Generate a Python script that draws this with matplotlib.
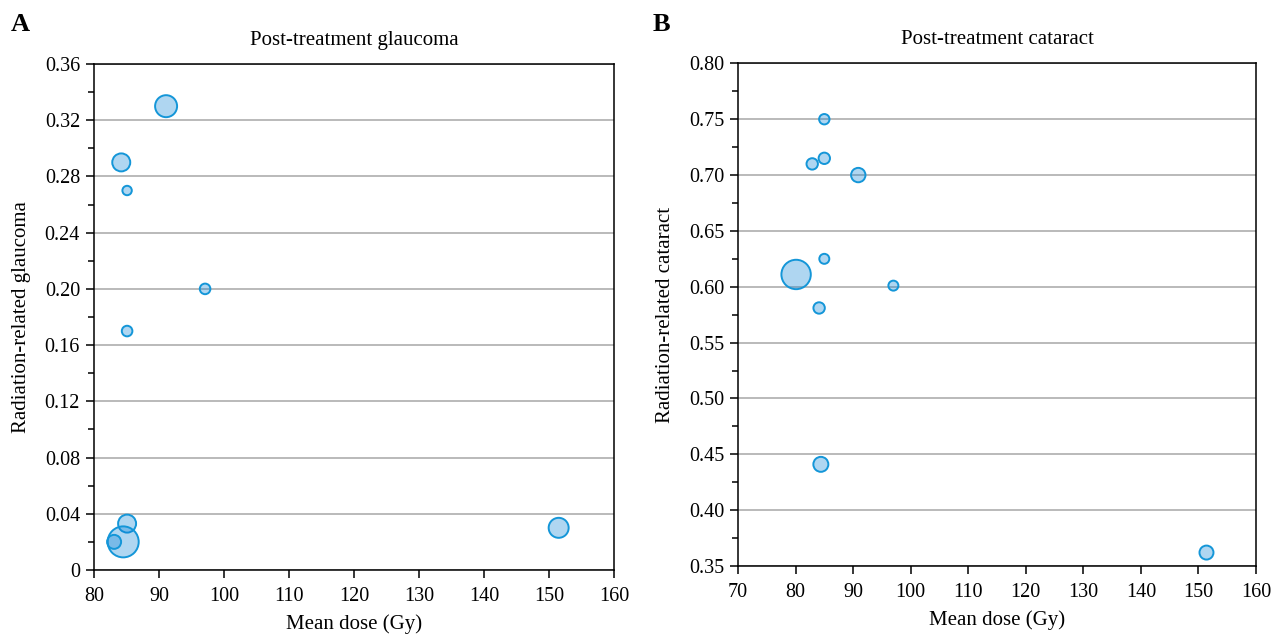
import matplotlib
matplotlib.use("Agg")
import matplotlib.pyplot as plt
from matplotlib.ticker import MultipleLocator

plt.rcParams["font.family"] = ["Liberation Serif", "DejaVu Serif"]

# Panel A: post-treatment glaucoma
glaucoma_dose = [91.1, 84.2, 85.1, 97.1, 85.1, 85.1, 84.5, 83.1, 151.5]
glaucoma_rate = [0.33, 0.29, 0.27, 0.20, 0.17, 0.033, 0.020, 0.020, 0.030]
glaucoma_size = [11, 9, 4.7, 5.3, 5.3, 9, 15.5, 7, 10]  # bubble radius (px)

# Panel B: post-treatment cataract
cataract_dose = [85.0, 82.9, 85.0, 90.9, 85.0, 80.1, 97.0, 84.1, 84.4, 151.4]
cataract_rate = [0.75, 0.71, 0.715, 0.70, 0.625, 0.611, 0.601, 0.581, 0.441, 0.362]
cataract_size = [5.2, 5.7, 5.7, 7.2, 5, 14.7, 5, 5.7, 7.5, 7]

FACE = (0.03, 0.50, 0.84, 0.32)
EDGE = "#1496d8"


def area(radii):
    # px radius -> marker area in pt^2 at 100 dpi
    return [(2 * r * 0.72) ** 2 for r in radii]


def style_axis(ax, xlim, ylim, ymaj, ymin, yfmt):
    ax.set_xlim(*xlim)
    ax.set_ylim(*ylim)
    ax.xaxis.set_major_locator(MultipleLocator(10))
    ax.yaxis.set_major_locator(MultipleLocator(ymaj))
    ax.yaxis.set_minor_locator(MultipleLocator(ymin))
    ax.yaxis.set_major_formatter(yfmt)
    ax.grid(axis="y", which="major", color="#b4b4b4", lw=1.3)
    ax.set_axisbelow(True)
    ax.tick_params(which="major", direction="out", length=6, width=1.1,
                   labelsize=14.5, pad=4)
    ax.tick_params(axis="x", which="major", pad=6)
    ax.tick_params(which="minor", direction="out", length=4, width=1.1)
    for s in ax.spines.values():
        s.set_linewidth(1.1)
    ax.set_xlabel("Mean dose (Gy)", fontsize=15, labelpad=6)


fig = plt.figure(figsize=(12.87, 6.37), dpi=100)
ax1 = fig.add_axes([0.0730, 0.1052, 0.4040, 0.7943])
ax2 = fig.add_axes([0.5734, 0.1115, 0.4025, 0.7890])

ax1.scatter(glaucoma_dose, glaucoma_rate, s=area(glaucoma_size),
            facecolors=[FACE], edgecolors=EDGE, linewidths=1.4, zorder=3)
style_axis(ax1, (80, 160), (0, 0.36), 0.04, 0.02,
           lambda v, p: "0" if abs(v) < 1e-9 else f"{v:.2f}")
ax1.set_ylabel("Radiation-related glaucoma", fontsize=15, labelpad=10)
ax1.set_title("Post-treatment glaucoma", fontsize=15, pad=14)

ax2.scatter(cataract_dose, cataract_rate, s=area(cataract_size),
            facecolors=[FACE], edgecolors=EDGE, linewidths=1.4, zorder=3)
style_axis(ax2, (70, 160), (0.35, 0.80), 0.05, 0.025,
           lambda v, p: f"{v:.2f}")
ax2.set_ylabel("Radiation-related cataract", fontsize=15, labelpad=10)
ax2.set_title("Post-treatment cataract", fontsize=15, pad=14)

fig.text(0.008, 0.962, "A", fontsize=19, fontweight="bold", va="center")
fig.text(0.507, 0.962, "B", fontsize=19, fontweight="bold", va="center")

fig.savefig("out.png", dpi=100)
